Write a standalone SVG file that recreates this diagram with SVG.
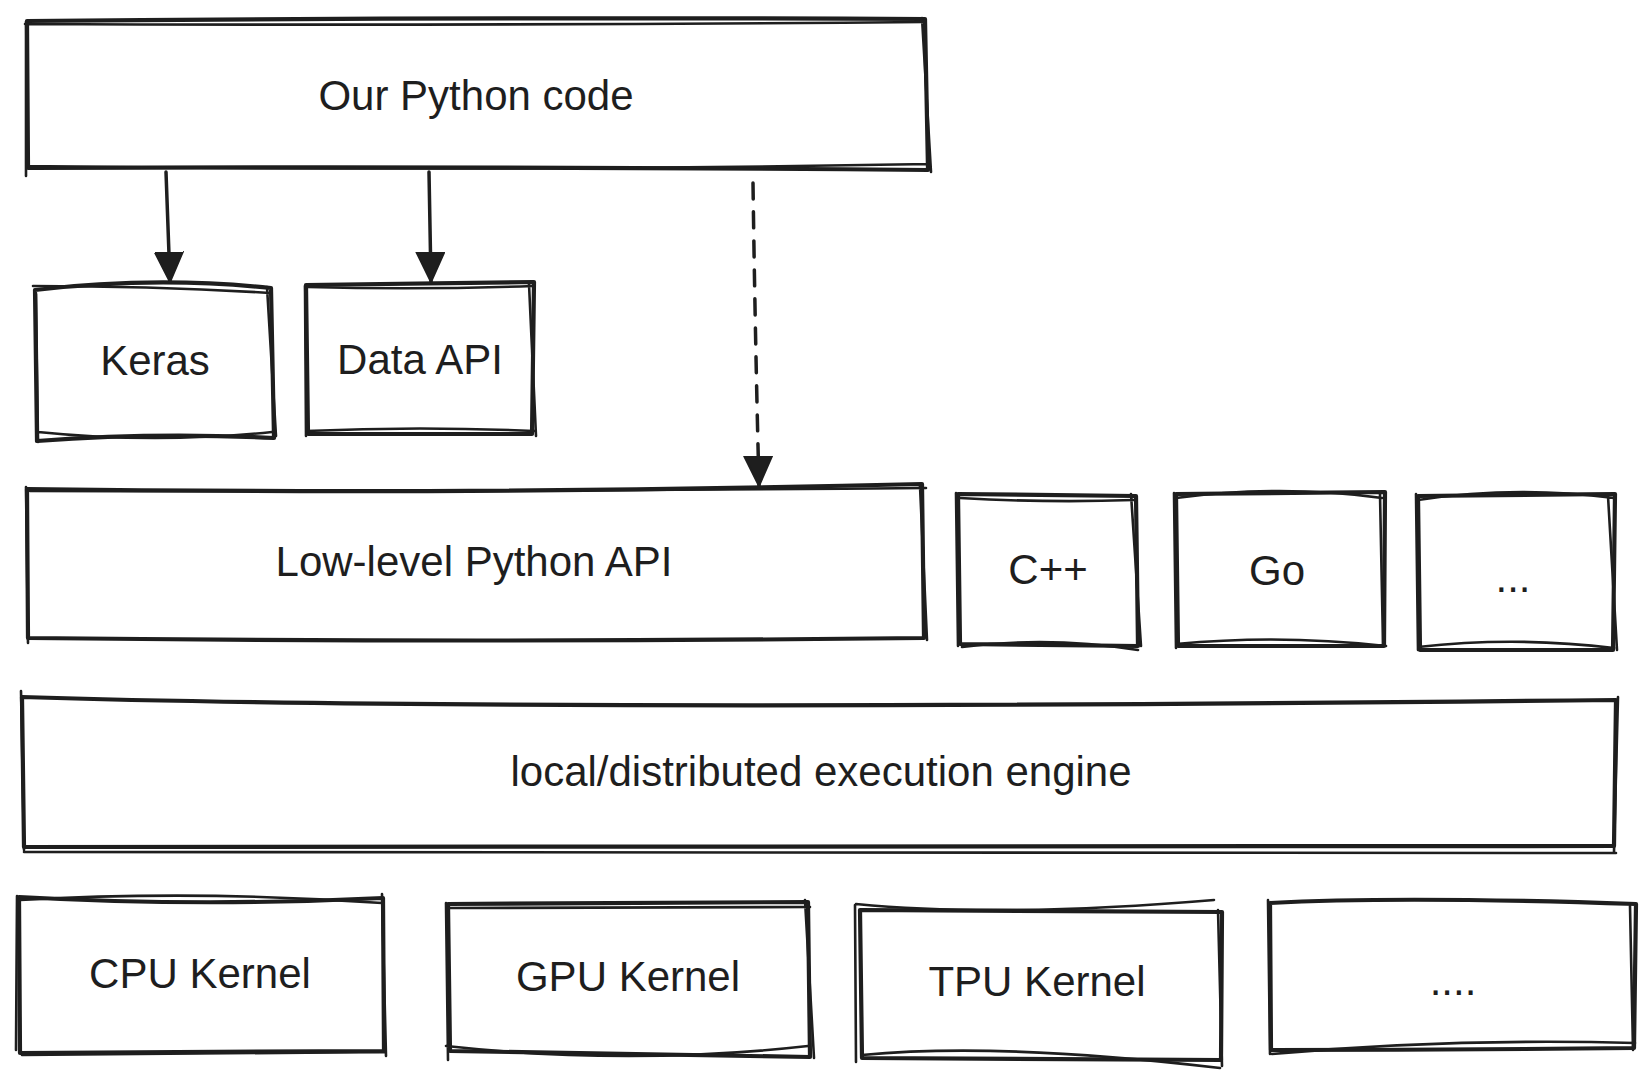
<svg xmlns="http://www.w3.org/2000/svg" width="1651" height="1079" viewBox="0 0 1651 1079">
<style>
.b{fill:none;stroke:#1e1e1e;stroke-width:4.2;stroke-linecap:round;stroke-linejoin:round}
.s{fill:none;stroke:#1e1e1e;stroke-width:2.6;stroke-linecap:round}
.t{font-family:"Liberation Sans",Arial,sans-serif;font-size:42px;fill:#1e1e1e;text-anchor:middle;dominant-baseline:central}
.c{fill:none;stroke:#1e1e1e;stroke-width:3.5;stroke-linecap:round}
.d{stroke-dasharray:16 13}
</style>
<defs>
<marker id="ah" viewBox="0 0 30 30" refX="30" refY="15" markerWidth="30" markerHeight="30" markerUnits="userSpaceOnUse" orient="auto">
<path d="M0,1 L30,15 L0,29 Z" fill="#1e1e1e" stroke="#1e1e1e" stroke-width="2" stroke-linejoin="round"/>
</marker>
</defs>
<rect width="1651" height="1079" fill="#ffffff"/>
<g id="connectors">
<path class="c" d="M166,172 Q168,225 170,282" marker-end="url(#ah)"/>
<path class="c" d="M429,172 Q430,225 431,282" marker-end="url(#ah)"/>
<path class="c d" d="M753,183 Q755,330 759,486" marker-end="url(#ah)"/>
</g>
<g id="n-python">
<path class="b" d="M27,21 Q480,17 925,19 L928,170 Q478,166 28,168 Z"/>
<path class="s" d="M25,24 Q480,26 924,22 M922,18 L931,172 M930,164 Q478,172 27,166 M26,176 L26,22"/>
<text class="t" x="476" y="95">Our Python code</text>
</g>
<g id="n-keras">
<path class="b" d="M35,290 Q155,276 271,288 L274,438 Q155,432 37,441 Z"/>
<path class="s" d="M33,286 Q155,286 270,293 M267,287 L276,436 M38,432 Q155,444 272,432 M36,294 L38,442"/>
<text class="t" x="155" y="360">Keras</text>
</g>
<g id="n-data">
<path class="b" d="M306,285 L534,282 L532,434 L308,434 Z"/>
<path class="s" d="M308,287 Q420,290 533,286 M529,284 L536,436 M306,431 Q420,426 534,431 M305,286 L306,436"/>
<text class="t" x="420" y="359">Data API</text>
</g>
<g id="n-lowlevel">
<path class="b" d="M27,489 Q480,495 922,484 L924,638 Q478,643 28,638 Z"/>
<path class="s" d="M26,487 L28,643 M920,486 L927,640 M30,491 Q478,492 926,488"/>
<text class="t" x="474" y="561">Low-level Python API</text>
</g>
<g id="n-cpp">
<path class="b" d="M958,494 L1136,496 L1138,646 L960,644 Z"/>
<path class="s" d="M956,493 L958,646 M1131,494 L1141,646 M960,498 Q1048,503 1134,500 M962,647 Q1050,636 1138,650"/>
<text class="t" x="1048" y="569">C++</text>
</g>
<g id="n-go">
<path class="b" d="M1176,494 L1385,492 L1384,646 L1178,646 Z"/>
<path class="s" d="M1174,493 L1176,648 M1380,494 L1383,644 M1176,498 Q1280,484 1382,498 M1176,644 Q1280,634 1386,646"/>
<text class="t" x="1277" y="570">Go</text>
</g>
<g id="n-etc">
<path class="b" d="M1418,496 L1615,494 L1613,650 L1420,650 Z"/>
<path class="s" d="M1416,494 L1418,650 M1608,496 L1617,650 M1418,500 Q1515,485 1614,498 M1418,647 Q1515,636 1614,648"/>
<text class="t" x="1513" y="577">...</text>
</g>
<g id="n-engine">
<path class="b" d="M22,697 Q500,712 1616,700 L1614,846 Q820,846 24,847 Z"/>
<path class="s" d="M21,691 L24,850 M1618,697 L1614,852 M24,852 Q820,853 1616,853"/>
<text class="t" x="821" y="771">local/distributed execution engine</text>
</g>
<g id="n-cpu">
<path class="b" d="M19,897 Q200,907 383,898 L384,1051 L20,1053 Z"/>
<path class="s" d="M17,896 L16,1050 M382,894 L386,1056 M20,900 Q200,890 382,903 M22,1055 L385,1052"/>
<text class="t" x="200" y="973">CPU Kernel</text>
</g>
<g id="n-gpu">
<path class="b" d="M448,904 L808,902 L810,1057 Q630,1054 450,1051 Z"/>
<path class="s" d="M446,903 L448,1060 M805,900 L814,1058 M448,908 L810,907 M446,1046 Q630,1066 808,1046"/>
<text class="t" x="628" y="976">GPU Kernel</text>
</g>
<g id="n-tpu">
<path class="b" d="M860,910 L1222,912 L1221,1060 L862,1058 Z"/>
<path class="s" d="M855,905 L856,1062 M1218,910 L1222,1066 M856,904 Q1000,918 1214,900 M862,1055 Q1000,1042 1220,1068"/>
<text class="t" x="1037" y="981">TPU Kernel</text>
</g>
<g id="n-etc2">
<path class="b" d="M1270,903 Q1400,896 1636,904 L1634,1048 Q1450,1050 1271,1050 Z"/>
<path class="s" d="M1268,900 L1270,1054 M1630,906 L1633,1050 M1272,1054 Q1450,1038 1635,1043"/>
<text class="t" x="1453" y="980">....</text>
</g>
</svg>
